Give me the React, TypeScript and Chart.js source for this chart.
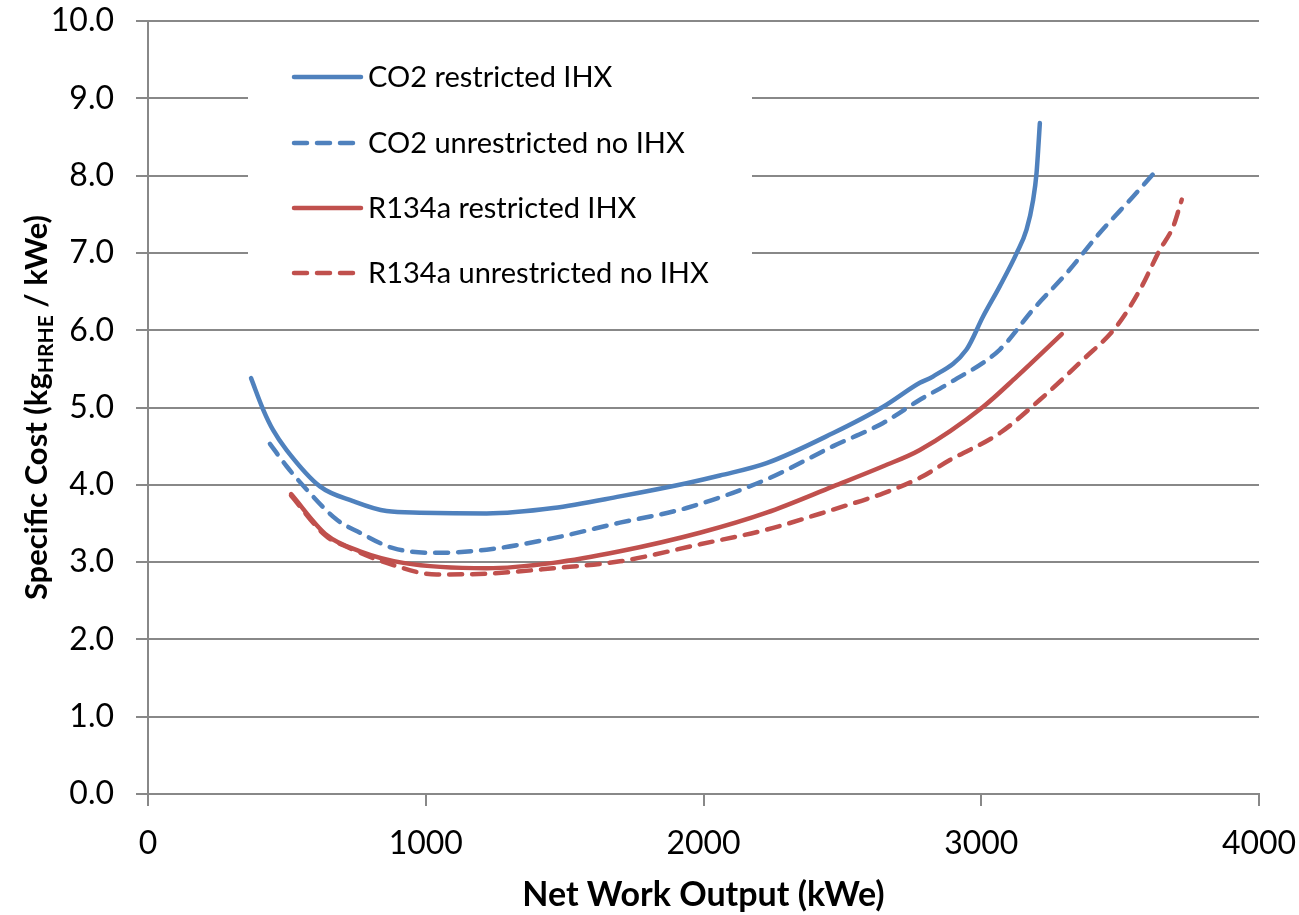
import React, { useEffect, useRef } from "react";
import { Chart, registerables } from "chart.js";

Chart.register(...registerables);

const FONT = "Lato, 'Open Sans', sans-serif";

const seriesNames = [
  "CO2 restricted IHX",
  "CO2 unrestricted no IHX",
  "R134a restricted IHX",
  "R134a unrestricted no IHX",
];

const co2RestrictedX = [371, 415, 450, 499, 619, 738, 859, 979, 1219, 1459, 1699, 1939, 2059, 2227, 2467, 2647, 2779, 2826, 2947, 3007, 3067, 3128, 3163, 3187, 3199, 3211];
const co2RestrictedY = [5.38, 4.97, 4.71, 4.45, 3.98, 3.79, 3.66, 3.64, 3.63, 3.7, 3.85, 4.02, 4.12, 4.28, 4.67, 5.01, 5.32, 5.4, 5.75, 6.18, 6.57, 7.0, 7.3, 7.69, 8.03, 8.68];

const co2UnrestrictedX = [439, 499, 571, 679, 763, 883, 1039, 1219, 1459, 1699, 1939, 2227, 2467, 2647, 2779, 2887, 3067, 3187, 3308, 3427, 3547, 3619];
const co2UnrestrictedY = [4.53, 4.24, 3.94, 3.55, 3.38, 3.18, 3.12, 3.16, 3.31, 3.51, 3.7, 4.07, 4.5, 4.8, 5.1, 5.32, 5.75, 6.27, 6.74, 7.26, 7.73, 8.02];

const r134aRestrictedX = [515, 643, 763, 919, 1219, 1459, 1699, 1987, 2227, 2467, 2647, 2779, 3007, 3128, 3290];
const r134aRestrictedY = [3.88, 3.35, 3.14, 2.99, 2.92, 2.99, 3.14, 3.38, 3.64, 3.98, 4.24, 4.45, 5.01, 5.4, 5.95];

const r134aUnrestrictedX = [515, 640, 715, 859, 1039, 1219, 1459, 1699, 1987, 2227, 2467, 2647, 2779, 2887, 3067, 3211, 3367, 3487, 3571, 3643, 3691, 3722];
const r134aUnrestrictedY = [3.86, 3.34, 3.2, 2.99, 2.84, 2.85, 2.92, 3.01, 3.23, 3.42, 3.68, 3.89, 4.09, 4.32, 4.67, 5.1, 5.62, 6.05, 6.52, 7.04, 7.34, 7.69];

const xTicks = [0, 1000, 2000, 3000, 4000];
const yTicks = [0, 1, 2, 3, 4, 5, 6, 7, 8, 9, 10];

const BLUE = "#4F81BD";
const RED = "#C0504D";
const GRID = "#888888";

const seriesColors = [BLUE, BLUE, RED, RED];
const seriesDashed = [false, true, false, true];
const seriesX = [co2RestrictedX, co2UnrestrictedX, r134aRestrictedX, r134aUnrestrictedX];
const seriesY = [co2RestrictedY, co2UnrestrictedY, r134aRestrictedY, r134aUnrestrictedY];

const DASH = [13, 10];

const legendPlugin = {
  id: "customLegend",
  afterDraw(chart: any) {
    const ctx = chart.ctx;
    ctx.save();
    ctx.fillStyle = "#ffffff";
    ctx.fillRect(248, 42, 504, 262);
    const rowY = [77, 143, 208, 273];
    seriesNames.forEach((name, i) => {
      const y = rowY[i];
      ctx.beginPath();
      ctx.strokeStyle = seriesColors[i];
      ctx.lineWidth = 4.5;
      ctx.lineCap = "round";
      ctx.setLineDash(seriesDashed[i] ? DASH : []);
      ctx.moveTo(294, y);
      ctx.lineTo(seriesDashed[i] ? 356 : 361, y);
      ctx.stroke();
      ctx.setLineDash([]);
      ctx.fillStyle = "#000000";
      ctx.font = `29px ${FONT}`;
      ctx.textBaseline = "alphabetic";
      ctx.textAlign = "left";
      ctx.fillText(name, 368, y + 10);
    });
    ctx.restore();
  },
};

const yTitlePlugin = {
  id: "yTitle",
  afterDraw(chart: any) {
    const ctx = chart.ctx;
    const area = chart.chartArea;
    const cy = (area.top + area.bottom) / 2;
    const mainFont = `bold 31px ${FONT}`;
    const subFont = `bold 21px ${FONT}`;
    const parts: [string, string, number][] = [
      ["Specific Cost (kg", mainFont, 0],
      ["HRHE", subFont, 6],
      [" / kWe)", mainFont, 0],
    ];
    ctx.save();
    let total = 0;
    parts.forEach(([t, f]) => {
      ctx.font = f;
      total += ctx.measureText(t).width;
    });
    ctx.translate(47, cy);
    ctx.rotate(-Math.PI / 2);
    ctx.fillStyle = "#000000";
    ctx.textBaseline = "alphabetic";
    ctx.textAlign = "left";
    let x = -total / 2;
    parts.forEach(([t, f, dy]) => {
      ctx.font = f;
      ctx.fillText(t, x, dy);
      x += ctx.measureText(t).width;
    });
    ctx.restore();
  },
};

export default function App() {
  const canvasRef = useRef<HTMLCanvasElement | null>(null);

  useEffect(() => {
    if (!canvasRef.current) return;
    const datasets = seriesNames.map((name, i) => ({
      label: name,
      data: seriesX[i].map((x, j) => ({ x, y: seriesY[i][j] })),
      borderColor: seriesColors[i],
      backgroundColor: seriesColors[i],
      borderWidth: 4.5,
      borderDash: seriesDashed[i] ? DASH : [],
      borderCapStyle: "round" as const,
      borderJoinStyle: "round" as const,
      pointRadius: 0,
      fill: false,
      cubicInterpolationMode: "monotone" as const,
    }));

    const chart = new Chart(canvasRef.current, {
      type: "line",
      data: { datasets },
      options: {
        animation: false,
        responsive: true,
        maintainAspectRatio: false,
        layout: { padding: { top: 21, right: 40, left: 0, bottom: 0 } },
        plugins: {
          legend: { display: false },
          tooltip: { enabled: false },
        },
        scales: {
          x: {
            type: "linear",
            min: 0,
            max: 4000,
            afterBuildTicks: (scale: any) => {
              scale.ticks = xTicks.map((v) => ({ value: v }));
            },
            afterFit: (scale: any) => {
              scale.height = 121;
              scale.paddingLeft = 0;
              scale.paddingRight = 0;
            },
            ticks: {
              color: "#000000",
              font: { family: FONT, size: 32 },
              padding: 18,
              maxRotation: 0,
              callback: (v: any) => String(v),
            },
            grid: {
              drawOnChartArea: false,
              drawTicks: true,
              tickLength: 12,
              color: GRID,
              lineWidth: 2,
            },
            border: { color: GRID, width: 2 },
            title: {
              display: true,
              text: "Net Work Output (kWe)",
              color: "#000000",
              font: { family: FONT, size: 34, weight: "bold" },
              padding: { top: 0, bottom: 0 },
            },
          },
          y: {
            type: "linear",
            min: 0,
            max: 10,
            afterBuildTicks: (scale: any) => {
              scale.ticks = yTicks.map((v) => ({ value: v }));
            },
            afterFit: (scale: any) => {
              scale.width = 148;
              scale.paddingTop = 0;
              scale.paddingBottom = 0;
            },
            ticks: {
              color: "#000000",
              font: { family: FONT, size: 32 },
              padding: 22,
              callback: (v: any) => Number(v).toFixed(1),
            },
            grid: {
              drawTicks: true,
              tickLength: 12,
              color: GRID,
              lineWidth: 2,
            },
            border: { color: GRID, width: 2 },
          },
        },
      },
      plugins: [legendPlugin, yTitlePlugin],
    });
    return () => chart.destroy();
  }, []);

  return (
    <div style={{ position: "absolute", left: 0, top: 0, width: 1299, height: 915, background: "#ffffff" }}>
      <canvas ref={canvasRef} />
    </div>
  );
}
